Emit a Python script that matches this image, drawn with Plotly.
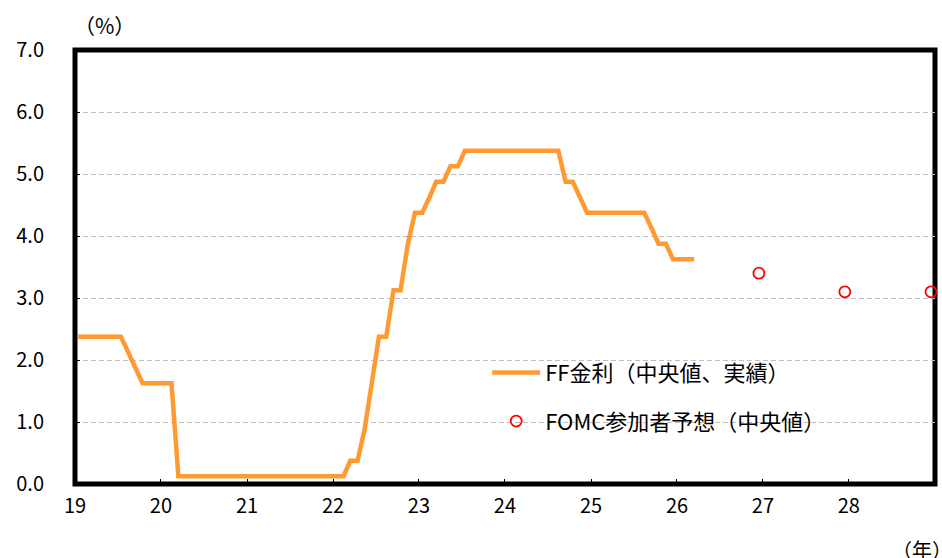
import pandas as pd
import plotly.graph_objects as go

# Monthly FF rate (median of target range), Jan 2019 - Mar 2026
months = pd.date_range("2019-01-01", periods=87, freq="MS") + pd.Timedelta(days=14)
ff_rate = [
    # 2019
    2.375, 2.375, 2.375, 2.375, 2.375, 2.375, 2.375, 2.125, 1.875, 1.625, 1.625, 1.625,
    # 2020
    1.625, 1.625, 0.125, 0.125, 0.125, 0.125, 0.125, 0.125, 0.125, 0.125, 0.125, 0.125,
    # 2021
    0.125, 0.125, 0.125, 0.125, 0.125, 0.125, 0.125, 0.125, 0.125, 0.125, 0.125, 0.125,
    # 2022
    0.125, 0.125, 0.375, 0.375, 0.875, 1.625, 2.375, 2.375, 3.125, 3.125, 3.875, 4.375,
    # 2023
    4.375, 4.625, 4.875, 4.875, 5.125, 5.125, 5.375, 5.375, 5.375, 5.375, 5.375, 5.375,
    # 2024
    5.375, 5.375, 5.375, 5.375, 5.375, 5.375, 5.375, 5.375, 4.875, 4.875, 4.625, 4.375,
    # 2025
    4.375, 4.375, 4.375, 4.375, 4.375, 4.375, 4.375, 4.375, 4.125, 3.875, 3.875, 3.625,
    # 2026
    3.625, 3.625, 3.625,
]

# FOMC participants' projection (median), year-end
fomc_dates = ["2026-12-15", "2027-12-15", "2028-12-15"]
fomc_rate = [3.4, 3.1, 3.1]

y_ticks = [0, 1, 2, 3, 4, 5, 6, 7]

FONT = "Noto Sans CJK JP"

fig = go.Figure()
fig.add_trace(go.Scatter(
    x=months, y=ff_rate, mode="lines",
    line=dict(color="#FF9A33", width=4.5),
    name="FF金利（中央値、実績）", legendgroup="a",
))
fig.add_trace(go.Scatter(
    x=fomc_dates, y=fomc_rate, mode="markers",
    marker=dict(symbol="circle-open", size=11, color="#FF0000", line=dict(width=1.8)),
    name="FOMC参加者予想（中央値）", legendgroup="b", cliponaxis=False,
))

fig.update_layout(
    width=942, height=558,
    margin=dict(l=75, r=7, t=50, b=74),
    paper_bgcolor="white", plot_bgcolor="white",
    font=dict(family=FONT, size=20, color="black"),
    showlegend=True,
    legend=dict(
        x=0.4793, y=0.305, xanchor="left", yanchor="top",
        bgcolor="rgba(0,0,0,0)", borderwidth=0,
        font=dict(family=FONT, size=22, color="black"),
        itemwidth=48, tracegroupgap=17, traceorder="grouped",
    ),
    xaxis=dict(
        type="date", range=["2019-01-01", "2029-01-01"],
        tick0="2019-01-01", dtick="M12", tickformat="%y",
        ticks="inside", ticklen=5, tickcolor="black", tickwidth=1,
        showline=False, showgrid=False, zeroline=False,
        ticklabelstandoff=8,
        tickfont=dict(family=FONT, size=20),
    ),
    yaxis=dict(
        range=[0, 7], tickvals=y_ticks, tickformat=".1f",
        ticks="inside", ticklen=5, tickcolor="black", tickwidth=1,
        showline=False, zeroline=False,
        showgrid=True, gridcolor="#BFBFBF", gridwidth=1, griddash="5px,3px",
        ticklabelstandoff=30,
        tickfont=dict(family=FONT, size=20),
    ),
    shapes=[dict(
        type="rect", xref="paper", yref="paper", x0=0, x1=1, y0=0, y1=1,
        line=dict(color="black", width=5), layer="below",
    )],
    annotations=[
        dict(text="（%）", xref="paper", yref="paper", x=0.034, y=1.058,
             xanchor="center", yanchor="middle", showarrow=False,
             font=dict(family=FONT, size=21, color="black")),
        dict(text="（年）", xref="paper", yref="paper", x=0.9475, y=-0.150,
             xanchor="left", yanchor="middle", showarrow=False,
             font=dict(family=FONT, size=20, color="black")),
    ],
)

fig.write_html(
    "out.html",
    config={"displayModeBar": False},
    post_script="document.body.style.margin='0';document.body.style.overflow='hidden';",
)
